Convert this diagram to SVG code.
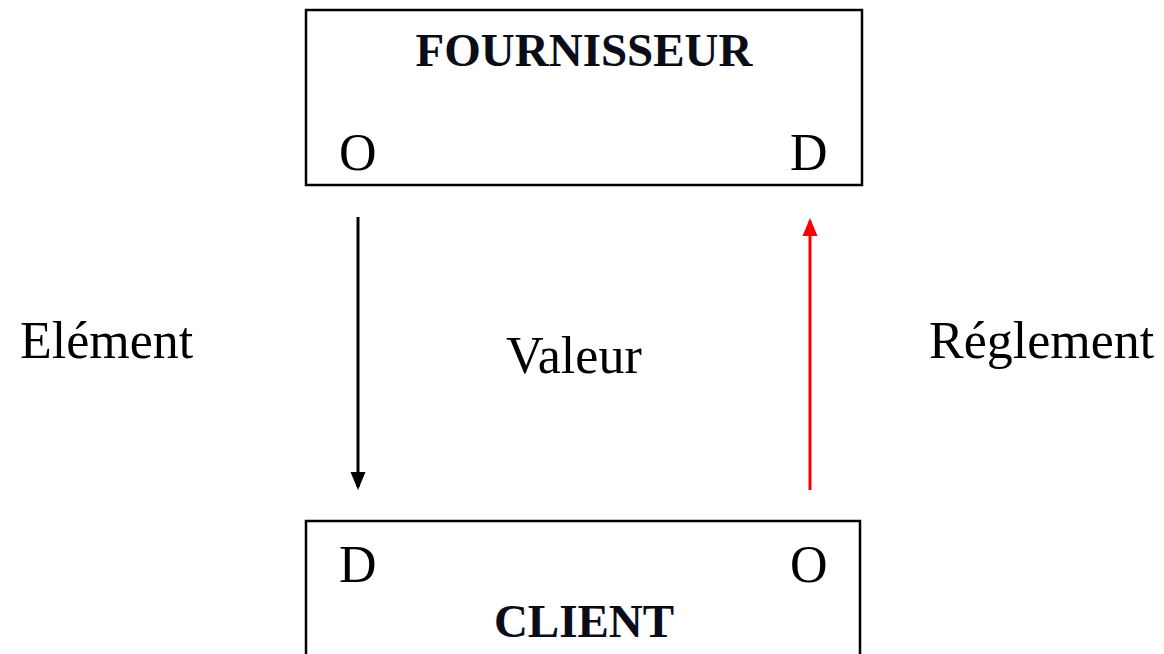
<svg xmlns="http://www.w3.org/2000/svg" width="1164" height="654" viewBox="0 0 1164 654">
<style>
.box{fill:#fff;stroke:#000;stroke-width:2.5}
.t{font-family:"Liberation Serif","Times New Roman",serif;fill:#000}
.r{font-size:52px}
.b{font-size:47px;font-weight:bold;fill:#0a0d18}
</style>
<defs>
<marker id="ab" markerWidth="6" markerHeight="6" refX="5" refY="3" orient="auto" markerUnits="strokeWidth"><path d="M0,0.5 L6,3 L0,5.5 z" fill="#000"/></marker>
<marker id="ar" markerWidth="6" markerHeight="6" refX="5" refY="3" orient="auto" markerUnits="strokeWidth"><path d="M0,0.5 L6,3 L0,5.5 z" fill="#f00"/></marker>
</defs>
<rect width="1164" height="654" fill="#fff"/>
<g id="fournisseur">
<rect class="box" x="306" y="10" width="556" height="175"/>
<text class="t b" x="584" y="66" text-anchor="middle">FOURNISSEUR</text>
<text class="t r" x="339" y="170">O</text>
<text class="t r" x="790" y="170">D</text>
</g>
<g id="client">
<rect class="box" x="306" y="521" width="554" height="150"/>
<text class="t r" x="339" y="582">D</text>
<text class="t r" x="790" y="582">O</text>
<text class="t b" x="584" y="637" text-anchor="middle">CLIENT</text>
</g>
<g id="connectors">
<line x1="358" y1="217" x2="358" y2="487" stroke="#000" stroke-width="3" marker-end="url(#ab)"/>
<line x1="810" y1="490" x2="810" y2="221" stroke="#f00" stroke-width="3" marker-end="url(#ar)"/>
</g>
<g id="labels">
<text class="t r" x="20" y="358">Elément</text>
<text class="t r" x="506" y="373">Valeur</text>
<text class="t r" x="929" y="358">Réglement</text>
</g>
</svg>
